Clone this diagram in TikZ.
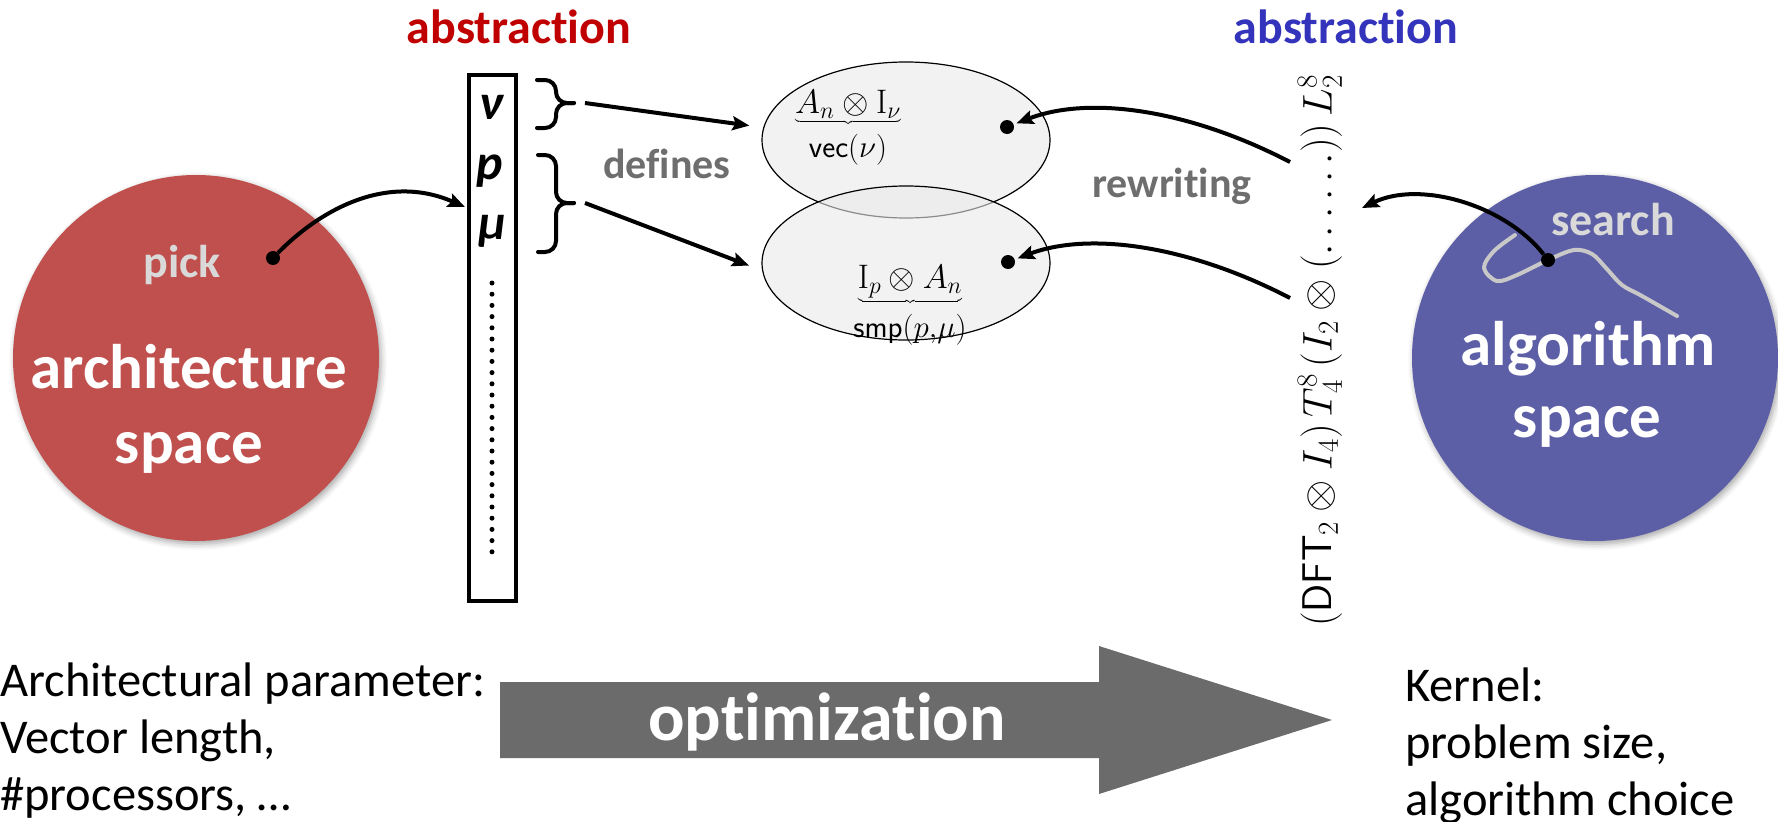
\RequirePackage{fix-cm}
\documentclass[tikz,border=0pt]{standalone}
\usepackage{fontspec}
\newfontfamily\carl[RawFeature={-liga;-clig;-calt;-dlig}]{Carlito}
\usetikzlibrary{shapes.geometric,arrows.meta,shadows.blur}
\definecolor{archred}{RGB}{192,80,77}
\definecolor{algblue}{RGB}{92,94,166}
\definecolor{absred}{RGB}{192,0,0}
\definecolor{absblue}{RGB}{51,51,187}
\definecolor{labgray}{RGB}{110,110,110}
\definecolor{palegray}{RGB}{217,217,217}
\definecolor{optgray}{RGB}{107,107,107}
\definecolor{ellfill}{RGB}{233,233,233}
\definecolor{searchgray}{RGB}{200,200,200}
\newcommand\subtxt[1]{\mbox{\fontsize{31}{33}\selectfont\sffamily\rule{0pt}{31pt}#1}}
\begin{document}
\begin{tikzpicture}[x=1pt,y=-1pt,
  space/.style={circle, inner sep=0pt, minimum size=366pt,
    blur shadow={shadow xshift=2pt, shadow yshift=-3pt, shadow blur radius=6pt, shadow opacity=35}},
  bigw/.style={font=\carl\bfseries\fontsize{63}{75}\selectfont, text=white, inner sep=0pt},
  pale/.style={font=\carl\bfseries\fontsize{46}{54}\selectfont, text=palegray, inner sep=0pt},
  absl/.style={font=\carl\bfseries\fontsize{48}{56}\selectfont, inner sep=0pt},
  lab/.style={font=\carl\bfseries\fontsize{42}{50}\selectfont, text=labgray, inner sep=0pt},
  param/.style={font=\carl\bfseries\itshape\fontsize{50}{58}\selectfont, inner sep=0pt},
  bottomtext/.style={font=\carl\fontsize{48.5}{57}\selectfont, inner sep=0pt, align=left},
  mathf/.style={font=\fontsize{34}{40}\selectfont, inner sep=0pt},
  dotn/.style={circle, fill=black, inner sep=0pt, minimum size=14pt},
  ell/.style={ellipse, draw=black, line width=1.2pt, fill=ellfill, fill opacity=0.6,
    minimum width=288pt, minimum height=156pt, inner sep=0pt},
  conn/.style={line width=4pt, -{Stealth[length=17pt,width=14pt,inset=3pt]}},
  bracel/.style={line width=4pt, rounded corners=11pt, line cap=round},
  opttext/.style={font=\carl\bfseries\fontsize{68}{80}\selectfont, text=white, inner sep=0pt}
]
\useasboundingbox (0,0) rectangle (1778,822);

% spaces
\node[space, fill=archred] (arch) at (196,358) {};
\node[space, fill=algblue] (algo) at (1595,358) {};
\node[bigw, anchor=base] (archt1) at (189,388) {architecture};
\node[bigw, anchor=base] (archt2) at (189,463) {space};
\node[pale, anchor=base] (pick) at (182,277) {pick};
\node[bigw, anchor=base] (algt1) at (1588,365) {algorithm};
\node[bigw, anchor=base] (algt2) at (1587,437) {space};
\node[pale, anchor=base] (search) at (1613,235) {search};

% search squiggle
\draw[searchgray, line width=4pt, line cap=round, line join=round]
  plot[smooth, tension=0.55] coordinates {(1515,235) (1494,251) (1484,268) (1497,281) (1517,275) (1548,260) (1574,250) (1592,254) (1606,268) (1622,285) (1642,296) (1677,316)};

% headings
\node[absl, text=absred, anchor=base] (absleft) at (519,43) {abstraction};
\node[absl, text=absblue, anchor=base] (absright) at (1346,43) {abstraction};

% parameter column
\node[draw, line width=4pt, minimum width=47pt, minimum height=526pt, inner sep=0pt] (col) at (492.5,338) {};
\node[param, anchor=base] (pnu) at (491,119) {ν};
\node[param, anchor=base] (pp) at (490,179) {p};
\node[param, anchor=base] (pmu) at (492,239) {μ};
\foreach \i in {0,...,24} \fill (492,283+\i*11.2) circle (2.5pt);

% braces
\draw[bracel] (537,80) -- (556,80) -- (556,103) -- (574,103);
\draw[bracel] (537,128) -- (556,128) -- (556,103) -- (574,103);
\draw[bracel] (538,155) -- (556,155) -- (556,203) -- (574,203);
\draw[bracel] (538,252) -- (556,252) -- (556,203) -- (574,203);
\coordinate (b1) at (585,103);
\coordinate (b2) at (585,203);

% ellipses
\node[ell] (topell) at (906,140) {};
\node[ell, minimum height=154pt] (botell) at (906,263) {};
\node[mathf, anchor=base] (ftop) at (848,113) {$\underbrace{A_n\otimes\mathrm{I}_\nu}_{\subtxt{vec$(\nu)$}}$};
\node[mathf, anchor=base] (fbot) at (910,288) {$\underbrace{\mathrm{I}_p\otimes A_n}_{\subtxt{smp$(p{,}\mu)$}}$};
\node[dotn] (d1) at (1007,127) {};
\node[dotn] (d2) at (1008,262) {};

\node[lab, anchor=base] (defines) at (667,178) {defines};
\node[lab, anchor=base] (rewriting) at (1172,197) {rewriting};

\draw[conn, shorten >=14pt] (b1) -- (topell.175);
\draw[conn, shorten >=14pt] (b2) -- (botell.183);

% vertical formula
\node[rotate=90, font=\fontsize{41.5}{50}\selectfont, inner sep=0pt] (vf) at (1320,351)
  {$(\mathsf{DFT}_2\otimes I_4)\,T^8_4\,(I_2\otimes(\ldots\ldots))\,L^8_2$};
\coordinate (r1) at (1290,162);
\coordinate (r2) at (1290,298);
\draw[conn, shorten >=3pt] (r1) .. controls (1190,110) and (1090,95) .. (d1);
\draw[conn, shorten >=3pt] (r2) .. controls (1190,246) and (1090,231) .. (d2);

% pick arrow
\node[dotn] (pdot) at (273,258) {};
\coordinate (pin) at (465,207);
\draw[conn] (pdot) .. controls (318,212) and (385,172) .. (pin);

% search arrow
\node[dotn] (sdot) at (1548,260) {};
\coordinate (fend) at (1362,208);
\draw[conn] (sdot) .. controls (1505,205) and (1420,180) .. (fend);

% optimization arrow
\fill[optgray] (500,682) -- (1099,682) -- (1099,646) -- (1332,720) -- (1099,794) -- (1099,758) -- (500,758) -- cycle;
\node[opttext, anchor=base] (opt) at (827,740) {optimization};

% bottom texts (anchor at the baseline of the last line)
\node[bottomtext, anchor=base west] (archpar) at (0,810) {Architectural parameter:\\Vector length,\\\#processors, …};
\node[bottomtext, anchor=base west] (kernel) at (1405,815) {Kernel:\\problem size,\\algorithm choice};
\end{tikzpicture}
\end{document}
